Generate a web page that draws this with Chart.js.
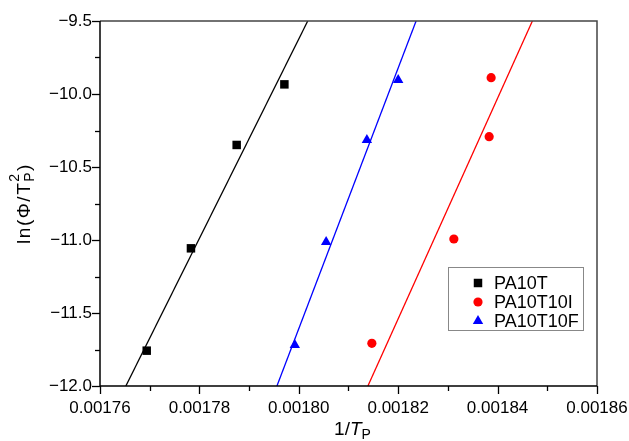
<!DOCTYPE html>
<html>
<head>
<meta charset="utf-8">
<script src="https://cdn.jsdelivr.net/npm/chart.js@4/dist/chart.umd.min.js"></script>
<style>
  html, body { margin: 0; padding: 0; background: #fff; }
  #wrap { width: 629px; height: 441px; }
</style>
</head>
<body>
<div id="wrap"><canvas id="myChart" width="629" height="441"></canvas></div>
<script>
// dati
var serieNomi = ['PA10T', 'PA10T10I', 'PA10T10F'];
var serieColori = ['#000000', '#ff0000', '#0000ff'];
var serieForme = ['rect', 'circle', 'triangle'];

var pa10t_x = [0.0017694, 0.0017783, 0.0017875, 0.0017971];
var pa10t_y = [-11.758, -11.057, -10.349, -9.934];

var pa10t10i_x = [0.0018147, 0.0018312, 0.0018383, 0.0018387];
var pa10t10i_y = [-11.708, -10.993, -10.292, -9.888];

var pa10t10f_x = [0.0017992, 0.0018055, 0.0018137, 0.0018200];
var pa10t10f_y = [-11.719, -11.014, -10.315, -9.904];

// rette di regressione (estremi)
var fit_pa10t_x = [0.0017652, 0.0018018];
var fit_pa10t10i_x = [0.0018139, 0.0018470];
var fit_pa10t10f_x = [0.0017956, 0.0018236];
var fit_y = [-12.0, -9.5];

// assi
var xMin = 0.00176, xMax = 0.00186, xStep = 0.00001;
var yMin = -12.0, yMax = -9.5, yStep = 0.25;

var FONT = "'Liberation Sans', Arial, sans-serif";

function punti(xs, ys) {
    var out = [];
    for (var i = 0; i < xs.length; i++) {
        out.push({x: xs[i], y: ys[i]});
    }
    return out;
}

var datiPunti = [
    punti(pa10t_x, pa10t_y),
    punti(pa10t10i_x, pa10t10i_y),
    punti(pa10t10f_x, pa10t10f_y)
];
var datiRette = [
    punti(fit_pa10t_x, fit_y),
    punti(fit_pa10t10i_x, fit_y),
    punti(fit_pa10t10f_x, fit_y)
];

var datasets = [];
for (var i = 0; i < serieNomi.length; i++) {
    datasets.push({
        label: 'fit ' + serieNomi[i],
        data: datiRette[i],
        showLine: true,
        borderColor: serieColori[i],
        borderWidth: 1.3,
        pointRadius: 0,
        fill: false
    });
}
var raggi = [6, 4.6, 6];
for (var i = 0; i < serieNomi.length; i++) {
    datasets.push({
        label: serieNomi[i],
        data: datiPunti[i],
        showLine: false,
        pointStyle: serieForme[i],
        pointRadius: raggi[i],
        pointBackgroundColor: serieColori[i],
        pointBorderColor: serieColori[i],
        pointBorderWidth: 0
    });
}

function disegnaForma(ctx, forma, x, y, r, colore) {
    ctx.fillStyle = colore;
    ctx.beginPath();
    if (forma === 'rect') {
        var s = r * Math.SQRT1_2;
        ctx.rect(x - s, y - s, 2 * s, 2 * s);
    } else if (forma === 'circle') {
        ctx.arc(x, y, r, 0, Math.PI * 2);
    } else {
        ctx.moveTo(x, y - r);
        ctx.lineTo(x + r * Math.sin(2 * Math.PI / 3), y + r / 2);
        ctx.lineTo(x - r * Math.sin(2 * Math.PI / 3), y + r / 2);
        ctx.closePath();
    }
    ctx.fill();
}

// cornice, tacche, titoli degli assi e legenda
var cornicePlugin = {
    id: 'cornice',
    afterDraw: function(chart) {
        var ctx = chart.ctx;
        var a = chart.chartArea;
        var sx = chart.scales.x, sy = chart.scales.y;
        ctx.save();

        // tacche
        ctx.strokeStyle = '#000';
        ctx.lineWidth = 1.3;
        sx.ticks.forEach(function(t) {
            var px = Math.round(sx.getPixelForValue(t.value)) + 0.5;
            var maggiore = Math.round(t.value * 1e5) % 2 === 0;
            ctx.beginPath();
            ctx.moveTo(px, a.bottom);
            ctx.lineTo(px, a.bottom + (maggiore ? 8 : 5));
            ctx.stroke();
        });
        sy.ticks.forEach(function(t) {
            var py = Math.round(sy.getPixelForValue(t.value)) + 0.5;
            var maggiore = Math.round(t.value * 4) % 2 === 0;
            ctx.beginPath();
            ctx.moveTo(a.left, py);
            ctx.lineTo(a.left - (maggiore ? 8 : 5), py);
            ctx.stroke();
        });

        // cornice
        ctx.lineWidth = 1.5;
        ctx.strokeStyle = '#444';
        ctx.beginPath();
        ctx.moveTo(a.left, a.top);
        ctx.lineTo(a.right, a.top);
        ctx.lineTo(a.right, a.bottom);
        ctx.stroke();
        ctx.strokeStyle = '#000';
        ctx.beginPath();
        ctx.moveTo(a.left, a.top);
        ctx.lineTo(a.left, a.bottom);
        ctx.lineTo(a.right, a.bottom);
        ctx.stroke();

        // titolo asse x: 1/T_P
        ctx.fillStyle = '#000';
        ctx.textBaseline = 'alphabetic';
        ctx.textAlign = 'left';
        ctx.font = '19px ' + FONT;
        var w1 = ctx.measureText('1/').width;
        ctx.font = 'italic 19px ' + FONT;
        var w2 = ctx.measureText('T').width;
        ctx.font = '14px ' + FONT;
        var w3 = ctx.measureText('P').width;
        var x0 = (a.left + a.right) / 2 - (w1 + w2 + w3) / 2 + 4;
        var base = 435;
        ctx.font = '19px ' + FONT;
        ctx.fillText('1/', x0, base);
        ctx.font = 'italic 19px ' + FONT;
        ctx.fillText('T', x0 + w1, base);
        ctx.font = '14px ' + FONT;
        ctx.fillText('P', x0 + w1 + w2, base + 4);

        // titolo asse y: ln(Φ/T_P^2)
        ctx.save();
        ctx.translate(30, (a.top + a.bottom) / 2);
        ctx.rotate(-Math.PI / 2);
        ctx.letterSpacing = '1.5px';
        ctx.font = '19px ' + FONT;
        var p1 = 'ln(\u03a6/T';
        var q1 = ctx.measureText(p1).width;
        ctx.font = '14px ' + FONT;
        var q2 = Math.max(ctx.measureText('P').width, ctx.measureText('2').width);
        ctx.font = '19px ' + FONT;
        var q3 = ctx.measureText(')').width;
        var y0 = -(q1 + q2 + q3) / 2;
        ctx.fillText(p1, y0, 0);
        ctx.font = '14px ' + FONT;
        ctx.fillText('P', y0 + q1, 4);
        ctx.fillText('2', y0 + q1, -11);
        ctx.font = '19px ' + FONT;
        ctx.fillText(')', y0 + q1 + q2, 0);
        ctx.restore();

        // legenda
        var lx = 448.5, ly = 267.5, lw = 135, lh = 63;
        ctx.fillStyle = '#fff';
        ctx.fillRect(lx, ly, lw, lh);
        ctx.strokeStyle = '#888';
        ctx.lineWidth = 1;
        ctx.strokeRect(lx, ly, lw, lh);
        ctx.font = '18px ' + FONT;
        ctx.textBaseline = 'middle';
        for (var i = 0; i < serieNomi.length; i++) {
            var ry = 283 + i * 19;
            disegnaForma(ctx, serieForme[i], 478, ry, raggi[i], serieColori[i]);
            ctx.fillStyle = '#000';
            ctx.fillText(serieNomi[i], 494, ry + 1);
        }
        ctx.restore();
    }
};

var ctx = document.getElementById('myChart').getContext('2d');

var myChart = new Chart(ctx, {
    type: 'scatter',
    data: { datasets: datasets },
    plugins: [cornicePlugin],
    options: {
        responsive: false,
        animation: false,
        layout: { padding: { left: 0, right: 32, top: 21, bottom: 0 } },
        plugins: {
            legend: { display: false },
            tooltip: { enabled: false }
        },
        scales: {
            x: {
                type: 'linear',
                min: xMin,
                max: xMax,
                grid: { display: false, drawTicks: false },
                border: { display: false },
                afterFit: function(scale) {
                    scale.height = 55;
                    scale.paddingLeft = 0;
                    scale.paddingRight = 0;
                },
                ticks: {
                    stepSize: xStep,
                    padding: 12,
                    autoSkip: false,
                    maxRotation: 0,
                    color: '#000',
                    font: { family: FONT, size: 17 },
                    callback: function(value) {
                        if (Math.round(value * 1e5) % 2 !== 0) return '';
                        return value.toFixed(5);
                    }
                }
            },
            y: {
                type: 'linear',
                min: yMin,
                max: yMax,
                grid: { display: false, drawTicks: false },
                border: { display: false },
                afterFit: function(scale) {
                    scale.width = 100;
                    scale.paddingTop = 0;
                    scale.paddingBottom = 0;
                },
                ticks: {
                    stepSize: yStep,
                    padding: 8,
                    autoSkip: false,
                    color: '#000',
                    font: { family: FONT, size: 17 },
                    callback: function(value) {
                        if (Math.round(value * 4) % 2 !== 0) return '';
                        return value.toFixed(1).replace('-', '\u2212');
                    }
                }
            }
        }
    }
});
</script>
</body>
</html>
